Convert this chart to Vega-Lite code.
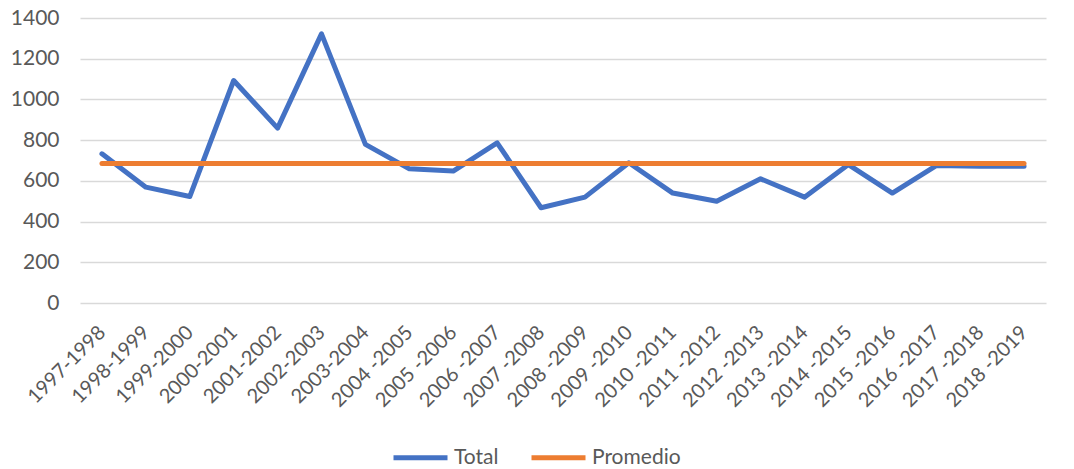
{
  "$schema": "https://vega.github.io/schema/vega-lite/v6.json",
  "width": 966,
  "height": 285,
  "autosize": {"type": "none"},
  "padding": {"left": 80, "top": 18, "right": 28, "bottom": 166},
  "background": "white",
  "config": {
    "view": {"stroke": null},
    "font": "Lato",
    "axis": {"labelFont": "Lato", "labelColor": "#595959", "labelFontSize": 20}
  },
  "data": {
    "values": [
      {"period": "1997-1998", "series": "Total", "value": 733},
      {"period": "1998-1999", "series": "Total", "value": 569},
      {"period": "1999-2000", "series": "Total", "value": 523},
      {"period": "2000-2001", "series": "Total", "value": 1093},
      {"period": "2001-2002", "series": "Total", "value": 859},
      {"period": "2002-2003", "series": "Total", "value": 1322},
      {"period": "2003-2004", "series": "Total", "value": 779},
      {"period": "2004 -2005", "series": "Total", "value": 659},
      {"period": "2005 -2006", "series": "Total", "value": 648},
      {"period": "2006 -2007", "series": "Total", "value": 787},
      {"period": "2007 -2008", "series": "Total", "value": 468},
      {"period": "2008 -2009", "series": "Total", "value": 520},
      {"period": "2009 -2010", "series": "Total", "value": 689},
      {"period": "2010 -2011", "series": "Total", "value": 540},
      {"period": "2011 -2012", "series": "Total", "value": 500},
      {"period": "2012 -2013", "series": "Total", "value": 610},
      {"period": "2013 -2014", "series": "Total", "value": 520},
      {"period": "2014 -2015", "series": "Total", "value": 680},
      {"period": "2015 -2016", "series": "Total", "value": 540},
      {"period": "2016 -2017", "series": "Total", "value": 675},
      {"period": "2017 -2018", "series": "Total", "value": 672},
      {"period": "2018 -2019", "series": "Total", "value": 672},
      {"period": "1997-1998", "series": "Promedio", "value": 685},
      {"period": "1998-1999", "series": "Promedio", "value": 685},
      {"period": "1999-2000", "series": "Promedio", "value": 685},
      {"period": "2000-2001", "series": "Promedio", "value": 685},
      {"period": "2001-2002", "series": "Promedio", "value": 685},
      {"period": "2002-2003", "series": "Promedio", "value": 685},
      {"period": "2003-2004", "series": "Promedio", "value": 685},
      {"period": "2004 -2005", "series": "Promedio", "value": 685},
      {"period": "2005 -2006", "series": "Promedio", "value": 685},
      {"period": "2006 -2007", "series": "Promedio", "value": 685},
      {"period": "2007 -2008", "series": "Promedio", "value": 685},
      {"period": "2008 -2009", "series": "Promedio", "value": 685},
      {"period": "2009 -2010", "series": "Promedio", "value": 685},
      {"period": "2010 -2011", "series": "Promedio", "value": 685},
      {"period": "2011 -2012", "series": "Promedio", "value": 685},
      {"period": "2012 -2013", "series": "Promedio", "value": 685},
      {"period": "2013 -2014", "series": "Promedio", "value": 685},
      {"period": "2014 -2015", "series": "Promedio", "value": 685},
      {"period": "2015 -2016", "series": "Promedio", "value": 685},
      {"period": "2016 -2017", "series": "Promedio", "value": 685},
      {"period": "2017 -2018", "series": "Promedio", "value": 685},
      {"period": "2018 -2019", "series": "Promedio", "value": 685}
    ]
  },
  "mark": {"type": "line", "strokeWidth": 5, "strokeCap": "round", "strokeJoin": "round"},
  "encoding": {
    "x": {
      "field": "period",
      "type": "ordinal",
      "sort": null,
      "scale": {"type": "point", "padding": 0.5},
      "axis": {
        "title": null,
        "domain": false,
        "ticks": false,
        "grid": false,
        "labelAngle": -45,
        "labelAlign": "right",
        "labelBaseline": "middle",
        "labelPadding": 26
      }
    },
    "y": {
      "field": "value",
      "type": "quantitative",
      "scale": {"domain": [0, 1400], "nice": false},
      "axis": {
        "title": null,
        "values": [0, 200, 400, 600, 800, 1000, 1200, 1400],
        "format": "d",
        "domain": false,
        "ticks": false,
        "grid": true,
        "gridColor": "#D9D9D9",
        "gridWidth": 1.3,
        "labelPadding": 21,
        "labelFontSize": 21
      }
    },
    "color": {
      "field": "series",
      "type": "nominal",
      "sort": ["Total", "Promedio"],
      "scale": {"domain": ["Total", "Promedio"], "range": ["#4472C4", "#ED7D31"]},
      "legend": {
        "title": null,
        "orient": "none",
        "direction": "horizontal",
        "legendX": 311,
        "legendY": 410,
        "symbolType": "stroke",
        "symbolSize": 2916,
        "symbolStrokeWidth": 5,
        "labelFont": "Lato",
        "labelFontSize": 21,
        "labelColor": "#595959",
        "columnPadding": 22,
        "labelOffset": 4
      }
    }
  }
}
